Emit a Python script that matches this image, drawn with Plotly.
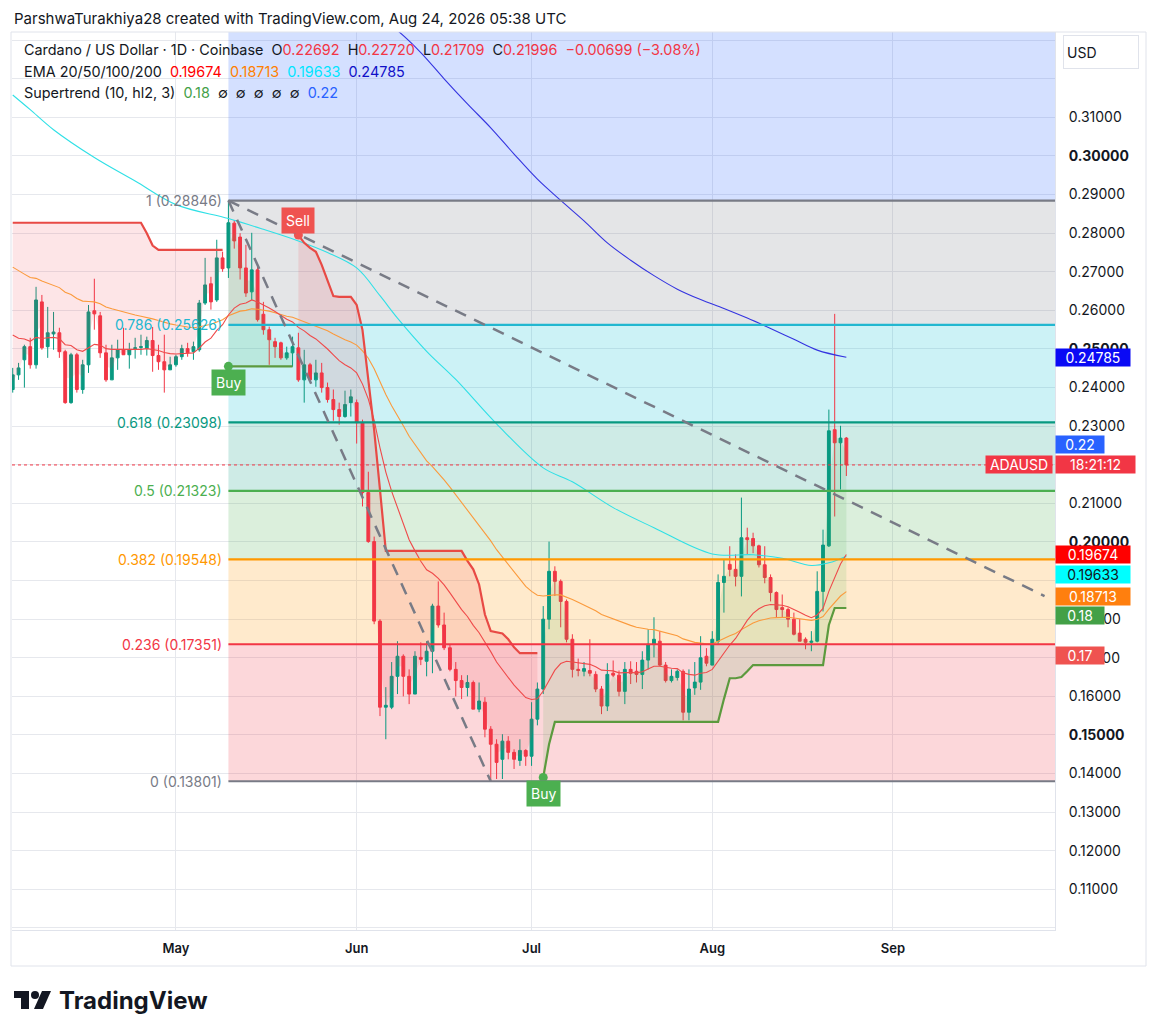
import plotly.graph_objects as go
import pandas as pd

# ---------------- data ----------------
dates = pd.date_range("2026-04-03", "2026-08-24", freq="D").strftime("%Y-%m-%d").tolist()

opens = [
    # Apr 3-30
    0.2395, 0.2433, 0.2472, 0.2506, 0.2459, 0.2622, 0.2506, 0.2539, 0.2542, 0.2493,
    0.2361, 0.2485, 0.2395, 0.2459, 0.2599, 0.2586, 0.2490, 0.2420, 0.2477, 0.2498,
    0.2485, 0.2501, 0.2504, 0.2501, 0.2522, 0.2483, 0.2467, 0.2446,
    # May
    0.2459, 0.2480, 0.2501, 0.2493, 0.2498, 0.2619, 0.2669, 0.2627, 0.2736, 0.2710,
    0.2826, 0.2790, 0.2710, 0.2648, 0.2705, 0.2590, 0.2550, 0.2519, 0.2516, 0.2477,
    0.2490, 0.2503, 0.2420, 0.2459, 0.2420, 0.2438, 0.2400, 0.2369, 0.2343, 0.2325,
    0.2361,
    # Jun
    0.2361, 0.2309, 0.2128, 0.2001, 0.1795, 0.1572, 0.1572, 0.1652, 0.1704, 0.1652,
    0.1606, 0.1701, 0.1691, 0.1717, 0.1834, 0.1785, 0.1726, 0.1670, 0.1641, 0.1623,
    0.1636, 0.1567, 0.1585, 0.1515, 0.1476, 0.1437, 0.1484, 0.1455, 0.1434, 0.1460,
    # Jul
    0.1445, 0.1541, 0.1619, 0.1800, 0.1924, 0.1898, 0.1846, 0.1748, 0.1670, 0.1665,
    0.1667, 0.1657, 0.1619, 0.1575, 0.1660, 0.1655, 0.1613, 0.1670, 0.1665, 0.1657,
    0.1694, 0.1735, 0.1743, 0.1681, 0.1641, 0.1649, 0.1665, 0.1559, 0.1622, 0.1637,
    0.1704,
    # Aug 1-24
    0.1681, 0.1743, 0.1895, 0.1942, 0.1929, 0.1911, 0.2011, 0.2009, 0.1990, 0.1941,
    0.1908, 0.1869, 0.1830, 0.1825, 0.1800, 0.1764, 0.1748, 0.1740, 0.1743, 0.1872,
    0.1990, 0.2291, 0.2257, 0.22692,
]
highs = [
    0.2451, 0.2464, 0.2511, 0.2529, 0.2661, 0.2640, 0.2609, 0.2596, 0.2555, 0.2498,
    0.2490, 0.2490, 0.2472, 0.2614, 0.2682, 0.2596, 0.2511, 0.2511, 0.2524, 0.2555,
    0.2516, 0.2529, 0.2537, 0.2532, 0.2557, 0.2511, 0.2537, 0.2480,
    0.2485, 0.2511, 0.2516, 0.2519, 0.2627, 0.2736, 0.2687, 0.2783, 0.2752, 0.2885,
    0.2834, 0.2800, 0.2770, 0.2801, 0.2713, 0.2622, 0.2558, 0.2529, 0.2519, 0.2506,
    0.2532, 0.2542, 0.2498, 0.2464, 0.2472, 0.2464, 0.2413, 0.2395, 0.2361, 0.2392,
    0.2395,
    0.2369, 0.2317, 0.2182, 0.2014, 0.1800, 0.1624, 0.1689, 0.1743, 0.1709, 0.1670,
    0.1717, 0.1740, 0.1743, 0.1840, 0.1898, 0.1817, 0.1734, 0.1689, 0.1655, 0.1655,
    0.1641, 0.1636, 0.1598, 0.1523, 0.1489, 0.1502, 0.1497, 0.1463, 0.1489, 0.1463,
    0.1585, 0.1636, 0.1834, 0.2001, 0.1937, 0.1903, 0.1851, 0.1761, 0.1698, 0.1689,
    0.1748, 0.1665, 0.1627, 0.1686, 0.1693, 0.1667, 0.1689, 0.1691, 0.1689, 0.1717,
    0.1774, 0.1805, 0.1769, 0.1689, 0.1670, 0.1670, 0.1670, 0.1670, 0.1689, 0.1756,
    0.1725,
    0.1769, 0.1916, 0.1955, 0.1989, 0.1968, 0.2115, 0.2037, 0.2024, 0.1993, 0.1989,
    0.1916, 0.1872, 0.1864, 0.1830, 0.1817, 0.1800, 0.1753, 0.1769, 0.1924, 0.2032,
    0.2343, 0.2591, 0.2301, 0.22720,
]
lows = [
    0.2387, 0.2420, 0.2400, 0.2449, 0.2449, 0.2498, 0.2477, 0.2498, 0.2477, 0.2358,
    0.2358, 0.2387, 0.2384, 0.2438, 0.2550, 0.2477, 0.2415, 0.2420, 0.2446, 0.2485,
    0.2449, 0.2475, 0.2485, 0.2483, 0.2441, 0.2446, 0.2387, 0.2446,
    0.2454, 0.2472, 0.2480, 0.2472, 0.2493, 0.2614, 0.2602, 0.2622, 0.2700, 0.2684,
    0.2760, 0.2680, 0.2635, 0.2627, 0.2571, 0.2537, 0.2459, 0.2477, 0.2472, 0.2472,
    0.2454, 0.2415, 0.2361, 0.2415, 0.2402, 0.2387, 0.2361, 0.2314, 0.2304, 0.2322,
    0.2325,
    0.2255, 0.2092, 0.1998, 0.1787, 0.1549, 0.1489, 0.1567, 0.1606, 0.1600, 0.1580,
    0.1606, 0.1681, 0.1652, 0.1660, 0.1778, 0.1720, 0.1665, 0.1600, 0.1593, 0.1600,
    0.1567, 0.1559, 0.1494, 0.1380, 0.1386, 0.1386, 0.1437, 0.1412, 0.1420, 0.1420,
    0.1420, 0.1525, 0.1606, 0.1774, 0.1860, 0.1779, 0.1740, 0.1649, 0.1652, 0.1652,
    0.1652, 0.1611, 0.1554, 0.1562, 0.1650, 0.1600, 0.1580, 0.1632, 0.1636, 0.1619,
    0.1670, 0.1701, 0.1678, 0.1636, 0.1636, 0.1641, 0.1538, 0.1538, 0.1604, 0.1617,
    0.1678,
    0.1681, 0.1733, 0.1817, 0.1911, 0.1885, 0.1859, 0.1968, 0.1971, 0.1934, 0.1893,
    0.1846, 0.1805, 0.1805, 0.1779, 0.1758, 0.1743, 0.1722, 0.1717, 0.1740, 0.1820,
    0.1987, 0.2066, 0.2136, 0.21709,
]
closes = [
    0.2433, 0.2451, 0.2506, 0.2459, 0.2627, 0.2503, 0.2542, 0.2544, 0.2493, 0.2361,
    0.2485, 0.2395, 0.2459, 0.2596, 0.2591, 0.2490, 0.2420, 0.2477, 0.2498, 0.2485,
    0.2498, 0.2503, 0.2506, 0.2522, 0.2483, 0.2467, 0.2446, 0.2459,
    0.2480, 0.2501, 0.2490, 0.2506, 0.2619, 0.2666, 0.2622, 0.2736, 0.2708, 0.2827,
    0.2780, 0.2710, 0.2645, 0.2705, 0.2576, 0.2550, 0.2524, 0.2506, 0.2477, 0.2490,
    0.2506, 0.2420, 0.2459, 0.2420, 0.2438, 0.2400, 0.2369, 0.2343, 0.2325, 0.2356,
    0.2376,
    0.2309, 0.2128, 0.2001, 0.1795, 0.1572, 0.1577, 0.1652, 0.1704, 0.1652, 0.1606,
    0.1704, 0.1696, 0.1717, 0.1834, 0.1785, 0.1726, 0.1670, 0.1641, 0.1623, 0.1636,
    0.1567, 0.1588, 0.1515, 0.1476, 0.1429, 0.1484, 0.1455, 0.1437, 0.1460, 0.1445,
    0.1541, 0.1619, 0.1800, 0.1924, 0.1898, 0.1846, 0.1748, 0.1670, 0.1667, 0.1672,
    0.1660, 0.1619, 0.1575, 0.1657, 0.1655, 0.1613, 0.1670, 0.1660, 0.1657, 0.1694,
    0.1735, 0.1748, 0.1681, 0.1641, 0.1652, 0.1665, 0.1559, 0.1619, 0.1637, 0.1700,
    0.1686,
    0.1748, 0.1895, 0.1911, 0.1929, 0.1911, 0.2011, 0.2006, 0.1990, 0.1941, 0.1908,
    0.1869, 0.1825, 0.1825, 0.1800, 0.1761, 0.1743, 0.1740, 0.1743, 0.1872, 0.1992,
    0.2288, 0.2257, 0.22692, 0.21996,
]

ema20 = [
    0.2536, 0.2528, 0.2526, 0.2520, 0.2530, 0.2527, 0.2529, 0.2530, 0.2527, 0.2511,
    0.2509, 0.2498, 0.2494, 0.2504, 0.2512, 0.2510, 0.2501, 0.2499, 0.2499, 0.2498,
    0.2498, 0.2498, 0.2499, 0.2501, 0.2499, 0.2496, 0.2491, 0.2488,
    0.2487, 0.2488, 0.2488, 0.2490, 0.2502, 0.2518, 0.2528, 0.2548, 0.2563, 0.2588,
    0.2606, 0.2616, 0.2619, 0.2627, 0.2622, 0.2615, 0.2606, 0.2597, 0.2586, 0.2577,
    0.2570, 0.2556, 0.2547, 0.2535, 0.2526, 0.2514, 0.2500, 0.2485, 0.2470, 0.2459,
    0.2451,
    0.2438, 0.2409, 0.2370, 0.2315, 0.2244, 0.2181, 0.2131, 0.2090, 0.2048, 0.2006,
    0.1977, 0.1950, 0.1928, 0.1919, 0.1906, 0.1889, 0.1868, 0.1846, 0.1825, 0.1807,
    0.1784, 0.1765, 0.1741, 0.1716, 0.1689, 0.1669, 0.1649, 0.1629, 0.1613, 0.1597,
    0.1592, 0.1594, 0.1614, 0.1643, 0.1668, 0.1685, 0.1691, 0.1689, 0.1687, 0.1686,
    0.1683, 0.1677, 0.1668, 0.1667, 0.1666, 0.1661, 0.1662, 0.1662, 0.1661, 0.1664,
    0.1671, 0.1678, 0.1678, 0.1675, 0.1673, 0.1672, 0.1661, 0.1657, 0.1655, 0.1660,
    0.1662,
    0.1670, 0.1692, 0.1713, 0.1733, 0.1750, 0.1775, 0.1797, 0.1815, 0.1827, 0.1835,
    0.1838, 0.1837, 0.1836, 0.1832, 0.1826, 0.1818, 0.1810, 0.1804, 0.1811, 0.1828,
    0.1872, 0.1909, 0.1943, 0.19674,
]
ema50 = [
    0.2712, 0.2702, 0.2694, 0.2685, 0.2683, 0.2676, 0.2671, 0.2666, 0.2659, 0.2647,
    0.2641, 0.2631, 0.2624, 0.2623, 0.2622, 0.2617, 0.2609, 0.2604, 0.2600, 0.2595,
    0.2591, 0.2588, 0.2585, 0.2582, 0.2578, 0.2574, 0.2569, 0.2565,
    0.2562, 0.2559, 0.2557, 0.2555, 0.2557, 0.2561, 0.2564, 0.2570, 0.2576, 0.2586,
    0.2593, 0.2598, 0.2600, 0.2604, 0.2603, 0.2601, 0.2598, 0.2594, 0.2589, 0.2585,
    0.2582, 0.2576, 0.2571, 0.2565, 0.2560, 0.2554, 0.2547, 0.2539, 0.2531, 0.2524,
    0.2518,
    0.2510, 0.2495, 0.2476, 0.2449, 0.2415, 0.2382, 0.2353, 0.2328, 0.2301, 0.2274,
    0.2252, 0.2230, 0.2210, 0.2195, 0.2179, 0.2161, 0.2142, 0.2122, 0.2103, 0.2084,
    0.2064, 0.2045, 0.2024, 0.2003, 0.1980, 0.1961, 0.1941, 0.1921, 0.1903, 0.1885,
    0.1872, 0.1862, 0.1860, 0.1862, 0.1863, 0.1863, 0.1858, 0.1851, 0.1844, 0.1837,
    0.1830, 0.1822, 0.1812, 0.1806, 0.1800, 0.1794, 0.1789, 0.1784, 0.1779, 0.1776,
    0.1774, 0.1773, 0.1769, 0.1764, 0.1760, 0.1757, 0.1749, 0.1744, 0.1740, 0.1738,
    0.1736,
    0.1736, 0.1744, 0.1750, 0.1757, 0.1763, 0.1773, 0.1782, 0.1790, 0.1796, 0.1800,
    0.1803, 0.1804, 0.1805, 0.1805, 0.1803, 0.1801, 0.1799, 0.1797, 0.1800, 0.1807,
    0.1826, 0.1843, 0.1860, 0.18713,
]
ema100_dates = ["2026-04-03", "2026-04-06", "2026-04-10", "2026-04-17", "2026-04-24",
                "2026-05-01", "2026-05-10", "2026-05-16", "2026-05-22", "2026-05-27",
                "2026-06-01", "2026-06-05", "2026-06-08", "2026-06-13", "2026-06-18",
                "2026-06-25", "2026-07-03", "2026-07-08", "2026-07-15", "2026-07-22",
                "2026-08-01", "2026-08-08", "2026-08-13", "2026-08-18", "2026-08-21",
                "2026-08-24"]
ema100 = [0.3158, 0.3120, 0.3068, 0.2996, 0.2935,
          0.2874, 0.2838, 0.2810, 0.2780, 0.2750,
          0.2710, 0.2638, 0.2580, 0.2494, 0.2421,
          0.2306, 0.2192, 0.2156, 0.2089, 0.2037,
          0.1969, 0.1967, 0.1958, 0.1939, 0.1946,
          0.19633]
ema200_dates = ["2026-05-28", "2026-06-02", "2026-06-08", "2026-06-12", "2026-06-16",
                "2026-06-20", "2026-06-24", "2026-06-28", "2026-07-02", "2026-07-06",
                "2026-07-10", "2026-07-14", "2026-07-18", "2026-07-22", "2026-07-26",
                "2026-07-30", "2026-08-03", "2026-08-07", "2026-08-11", "2026-08-15",
                "2026-08-19", "2026-08-24"]
ema200 = [0.3450, 0.3390, 0.3325, 0.3268, 0.3200,
          0.3135, 0.3073, 0.3005, 0.2940, 0.2885,
          0.2832, 0.2775, 0.2730, 0.2690, 0.2655,
          0.2628, 0.2605, 0.2580, 0.2553, 0.2525,
          0.2497, 0.24785]

supertrend = [
    # Apr 3-30
    0.2827, 0.2827, 0.2827, 0.2827, 0.2827, 0.2827, 0.2827, 0.2827, 0.2827, 0.2827,
    0.2827, 0.2827, 0.2827, 0.2827, 0.2827, 0.2827, 0.2827, 0.2827, 0.2827, 0.2827,
    0.2827, 0.2827, 0.2827, 0.2800, 0.2768, 0.2757, 0.2757, 0.2757,
    # May
    0.2757, 0.2757, 0.2757, 0.2757, 0.2757, 0.2757, 0.2757, 0.2757, 0.2757, 0.2455,
    0.2455, 0.2455, 0.2455, 0.2455, 0.2455, 0.2455, 0.2455, 0.2455, 0.2455, 0.2455,
    0.2455, 0.2795, 0.2775, 0.2762, 0.2752, 0.2718, 0.2679, 0.2637, 0.2635, 0.2635,
    0.2635,
    # Jun
    0.2614, 0.2549, 0.2420, 0.2290, 0.2135, 0.1977, 0.1977, 0.1977, 0.1977, 0.1977,
    0.1977, 0.1977, 0.1977, 0.1977, 0.1977, 0.1977, 0.1977, 0.1977, 0.1977, 0.1951,
    0.1929, 0.1890, 0.1812, 0.1769, 0.1766, 0.1763, 0.1748, 0.1727, 0.1712, 0.1712,
    # Jul
    0.1712, 0.1712, 0.1390, 0.1476, 0.1534, 0.1534, 0.1534, 0.1534, 0.1534, 0.1534,
    0.1534, 0.1534, 0.1534, 0.1534, 0.1534, 0.1534, 0.1534, 0.1534, 0.1534, 0.1534,
    0.1534, 0.1534, 0.1534, 0.1534, 0.1534, 0.1534, 0.1534, 0.1534, 0.1534, 0.1534,
    0.1534,
    # Aug 1-24
    0.1534, 0.1534, 0.1593, 0.1647, 0.1647, 0.1650, 0.1665, 0.1681, 0.1681, 0.1681,
    0.1681, 0.1681, 0.1681, 0.1681, 0.1681, 0.1681, 0.1681, 0.1681, 0.1681, 0.1681,
    0.1785, 0.1829, 0.1829, 0.1829,
]
st_segments = [("2026-04-03", "2026-05-09", "down"),
               ("2026-05-10", "2026-05-21", "up"),
               ("2026-05-22", "2026-07-02", "down"),
               ("2026-07-03", "2026-08-24", "up")]

signal_dates = ["2026-05-10", "2026-05-22", "2026-07-03"]
signal_prices = [0.2455, 0.2795, 0.1390]
signal_kinds = ["Buy", "Sell", "Buy"]

fib_ratios = ["1", "0.786", "0.618", "0.5", "0.382", "0.236", "0"]
fib_prices = [0.28846, 0.25626, 0.23098, 0.21323, 0.19548, 0.17351, 0.13801]
fib_ext_price = 0.38144          # 1.618 level (off the top of the chart)
fib_start = "2026-05-10"

trend_a_dates = ["2026-05-10", "2026-06-24"]
trend_a_prices = [0.28846, 0.13801]
trend_b_dates = ["2026-05-10", "2026-09-27"]
trend_b_prices = [0.28846, 0.1860]

last_price = 0.21996
price_ticks = [0.10, 0.11, 0.12, 0.13, 0.14, 0.15, 0.16, 0.17, 0.18, 0.19, 0.20, 0.21,
               0.22, 0.23, 0.24, 0.25, 0.26, 0.27, 0.28, 0.29, 0.30, 0.31, 0.32, 0.33]
bold_ticks = [0.15, 0.20, 0.25, 0.30]
hidden_ticks = [0.10, 0.19, 0.22, 0.32, 0.33]   # covered by price-scale boxes / not shown

# ---------------- styling ----------------
FONT = "Inter, Roboto, sans-serif"
TXT = "#131722"
UP = "#089981"
DN = "#f23645"
GRID = "#e6e8ed"
X_MIN, X_MAX = "2026-04-02 21:00", "2026-09-28 19:00"
Y_MIN, Y_MAX = 0.09948, 0.33212

fib_line_colors = ["#787b86", "#22b7d0", "#089981", "#4caf50", "#ff9800", "#f23645", "#787b86"]
fib_fill_rgb = ["120,123,134", "0,188,212", "8,153,129", "76,175,80", "255,152,0", "242,54,69"]


def px(x):
    return (x - 12) / 1043


def py(y):
    return (930 - y) / 898


fig = go.Figure()

# Supertrend fills (between line and candle body middle)
idx = {d: i for i, d in enumerate(dates)}
for start, end, direction in st_segments:
    i0, i1 = idx[start], idx[end] + 1
    xs = dates[i0:i1]
    mids = [(opens[i] + closes[i]) / 2 for i in range(i0, i1)]
    fill = "rgba(242,54,69,0.13)" if direction == "down" else "rgba(76,175,80,0.14)"
    fig.add_trace(go.Scatter(x=xs, y=mids, mode="lines", line=dict(width=0),
                             hoverinfo="skip", showlegend=False))
    fig.add_trace(go.Scatter(x=xs, y=supertrend[i0:i1], mode="lines", line=dict(width=0),
                             fill="tonexty", fillcolor=fill, hoverinfo="skip", showlegend=False))

# Candles
fig.add_trace(go.Candlestick(
    x=dates, open=opens, high=highs, low=lows, close=closes,
    increasing=dict(line=dict(color=UP, width=1), fillcolor=UP),
    decreasing=dict(line=dict(color=DN, width=1), fillcolor=DN),
    whiskerwidth=0, showlegend=False, hoverinfo="skip"))

# EMAs
fig.add_trace(go.Scatter(x=ema200_dates, y=ema200, mode="lines", line=dict(color="#3434e0", width=1.1, shape="spline"),
                         hoverinfo="skip", showlegend=False))
fig.add_trace(go.Scatter(x=ema100_dates, y=ema100, mode="lines", line=dict(color="#2fe0e6", width=1.1, shape="spline"),
                         hoverinfo="skip", showlegend=False))
fig.add_trace(go.Scatter(x=dates, y=ema50, mode="lines", line=dict(color="#fb9a3c", width=1.1),
                         hoverinfo="skip", showlegend=False))
fig.add_trace(go.Scatter(x=dates, y=ema20, mode="lines", line=dict(color="#ef4a4a", width=1.1),
                         hoverinfo="skip", showlegend=False))

# Supertrend lines
for start, end, direction in st_segments:
    i0, i1 = idx[start], idx[end] + 1
    col = "#e84a45" if direction == "down" else "#5c9a3e"
    fig.add_trace(go.Scatter(x=dates[i0:i1], y=supertrend[i0:i1], mode="lines",
                             line=dict(color=col, width=2.2), hoverinfo="skip", showlegend=False))

# signal dots
fig.add_trace(go.Scatter(
    x=signal_dates, y=signal_prices, mode="markers",
    marker=dict(size=9, color=["#4caf50" if k == "Buy" else "#ef5350" for k in signal_kinds]),
    hoverinfo="skip", showlegend=False))

shapes = []
# Fibonacci backgrounds
shapes.append(dict(type="rect", xref="x", yref="y", x0=fib_start, x1=X_MAX, y0=fib_prices[0], y1=fib_ext_price,
                   fillcolor="rgba(41,98,255,0.2)", line=dict(width=0), layer="between"))
for i in range(len(fib_prices) - 1):
    shapes.append(dict(type="rect", xref="x", yref="y", x0=fib_start, x1=X_MAX,
                       y0=fib_prices[i + 1], y1=fib_prices[i],
                       fillcolor="rgba(%s,0.2)" % fib_fill_rgb[i], line=dict(width=0), layer="between"))
# Fib level lines
for p, c in zip(fib_prices, fib_line_colors):
    shapes.append(dict(type="line", xref="x", yref="y", x0=fib_start, x1=X_MAX, y0=p, y1=p,
                       line=dict(color=c, width=2.2), layer="above"))
# dashed trend lines
for tx, ty in [(trend_a_dates, trend_a_prices), (trend_b_dates, trend_b_prices)]:
    shapes.append(dict(type="line", xref="x", yref="y", x0=tx[0], x1=tx[1], y0=ty[0], y1=ty[1],
                       line=dict(color="#787b86", width=2.5, dash="12px,9px"), layer="above"))
# last price dotted line
shapes.append(dict(type="line", xref="paper", yref="y", x0=0, x1=1, y0=last_price, y1=last_price,
                   line=dict(color=DN, width=1, dash="dot"), layer="above"))
# outer frame
shapes.append(dict(type="rect", xref="paper", yref="paper", x0=px(11), x1=px(1146), y0=py(966), y1=py(32),
                   line=dict(color="#e0e3eb", width=1), fillcolor="rgba(0,0,0,0)", layer="above"))
# TradingView logo
logo_col = "#131722"
shapes.append(dict(type="rect", xref="paper", yref="paper", x0=px(14), x1=px(29), y0=py(998), y1=py(991),
                   fillcolor=logo_col, line=dict(width=0)))
shapes.append(dict(type="rect", xref="paper", yref="paper", x0=px(21), x1=px(29), y0=py(1009), y1=py(991),
                   fillcolor=logo_col, line=dict(width=0)))
shapes.append(dict(type="circle", xref="paper", yref="paper", x0=px(31), x1=px(39), y0=py(999), y1=py(991),
                   fillcolor=logo_col, line=dict(width=0)))
shapes.append(dict(type="path", xref="paper", yref="paper",
                   path="M %f %f L %f %f L %f %f L %f %f Z" % (px(42), py(991), px(51), py(991),
                                                               px(43), py(1009), px(34), py(1009)),
                   fillcolor=logo_col, line=dict(width=0)))

ann = []
# header
ann.append(dict(xref="paper", yref="paper", x=px(12), y=py(18), xanchor="left", yanchor="middle",
                text="ParshwaTurakhiya28 created with TradingView.com, Aug 24, 2026 05:38 UTC",
                showarrow=False, font=dict(size=15, color=TXT)))


def col(t, c):
    return '<span style="color:%s">%s</span>' % (c, t)


NB = "\u00a0"
legend1 = ("Cardano / US Dollar · 1D · Coinbase" + NB * 2 +
           "O" + col("0.22692", DN) + NB * 2 + "H" + col("0.22720", DN) + NB * 2 +
           "L" + col("0.21709", DN) + NB * 2 + "C" + col("0.21996", DN) + NB * 2 +
           col("−0.00699 (−3.08%)", DN))
legend2 = ("EMA 20/50/100/200" + NB * 2 + col("0.19674", "#ff0000") + NB * 2 + col("0.18713", "#ff7f00") +
           NB * 2 + col("0.19633", "#00e5ff") + NB * 2 + col("0.24785", "#1010c8"))
legend3 = ("Supertrend (10, hl2, 3)" + NB * 2 + col("0.18", "#43a047") + NB * 2 +
           (NB * 2).join(["∅"] * 5) + NB * 2 + col("0.22", "#2962ff"))
for t, yy in [(legend1, 50), (legend2, 72), (legend3, 92)]:
    ann.append(dict(xref="paper", yref="paper", x=px(22), y=py(yy), xanchor="left", yanchor="middle",
                    text=t, showarrow=False, font=dict(size=14.4, color=TXT)))

# fib labels
for r, p, c in zip(fib_ratios, fib_prices, fib_line_colors):
    ann.append(dict(xref="x", yref="y", x=fib_start, y=p, xanchor="right", yanchor="middle", xshift=-4,
                    text="%s (%.5f)" % (r, p), showarrow=False, font=dict(size=14, color=c)))

# Buy / Sell labels
for d, p, k in zip(signal_dates, signal_prices, signal_kinds):
    ann.append(dict(xref="x", yref="y", x=d, y=p, yshift=(-16 if k == "Buy" else 15),
                    text=k, showarrow=False, bgcolor=("#4caf50" if k == "Buy" else "#ef5350"),
                    borderpad=4, font=dict(size=14, color="white"), yanchor="middle"))

# price-scale labels
scale_labels = [("0.24785", 0.24785, "#0a0af5", "white", 74),
                ("0.22", 0.2253, "#2962ff", "white", 48),
                ("18:21:12", last_price, DN, "white", 79),
                ("0.19674", 0.19674, "#ff0000", "white", 74),
                ("0.19633", 0.1915, "#00ffff", TXT, 74),
                ("0.18713", 0.1860, "#ff7f0e", "white", 74),
                ("0.18", 0.1810, "#43a047", "white", 48),
                ("0.17", 0.1706, "#ef5350", "white", 48)]
for t, p, bg, fc, w in scale_labels:
    ann.append(dict(xref="paper", yref="y", x=1.0, y=p, xanchor="left", yanchor="middle",
                    text=t, showarrow=False, bgcolor=bg, width=w - 2, height=15, borderpad=1,
                    align="center", font=dict(size=14, color=fc)))
ann.append(dict(xref="paper", yref="y", x=px(1053), y=last_price, xanchor="right", yanchor="middle",
                text="ADAUSD", showarrow=False, bgcolor=DN, width=64, height=15, borderpad=1,
                align="center", font=dict(size=14, color="white")))
# USD button
ann.append(dict(xref="paper", yref="paper", x=px(1063), y=py(52), xanchor="left", yanchor="middle",
                text="USD", showarrow=False, bgcolor="white", bordercolor="#e0e3eb", borderwidth=1,
                width=68, height=26, borderpad=3, align="left", font=dict(size=14, color=TXT)))
# footer
ann.append(dict(xref="paper", yref="paper", x=px(57), y=py(1000), xanchor="left", yanchor="middle",
                text="<b>TradingView</b>", showarrow=False, font=dict(size=24, color=TXT)))

tick_text = []
for v in price_ticks:
    if any(abs(v - h) < 1e-9 for h in hidden_ticks):
        tick_text.append("")
    elif any(abs(v - b) < 1e-9 for b in bold_ticks):
        tick_text.append("<b>%.5f</b>" % v)
    else:
        tick_text.append("%.5f" % v)

fig.update_layout(
    width=1157, height=1036, autosize=False,
    margin=dict(l=12, r=102, t=32, b=106),
    paper_bgcolor="white", plot_bgcolor="white",
    font=dict(family=FONT, color=TXT),
    showlegend=False, hovermode=False,
    shapes=shapes, annotations=ann,
    xaxis=dict(type="date", range=[X_MIN, X_MAX], rangeslider=dict(visible=False),
               dtick="M1", tick0="2026-05-01", tickformat="%b", ticks="",
               showgrid=True, gridcolor=GRID, gridwidth=1, zeroline=False,
               showline=True, linecolor="#e0e3eb", linewidth=1,
               tickfont=dict(size=13, color=TXT, weight=600), ticklabelstandoff=6,
               automargin=False, fixedrange=True),
    yaxis=dict(range=[Y_MIN, Y_MAX], side="right", tickmode="array", tickvals=price_ticks,
               ticktext=tick_text, ticks="", showgrid=True, gridcolor=GRID, gridwidth=1,
               zeroline=False, showline=True, linecolor="#e0e3eb", linewidth=1,
               tickfont=dict(size=14, color=TXT), ticklabelstandoff=10,
               automargin=False, fixedrange=True),
)

fig.write_html("out.html", config={"displayModeBar": False},
               post_script="document.body.style.margin='0px';document.body.style.overflow='hidden';")
